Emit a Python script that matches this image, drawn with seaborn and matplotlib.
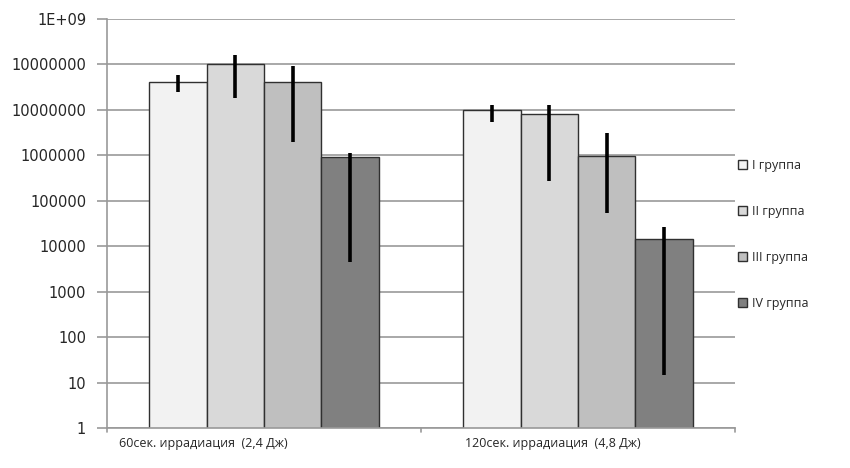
import pandas as pd
import matplotlib.pyplot as plt
import matplotlib.transforms as mtransforms
import seaborn as sns
from matplotlib.patches import Patch

# DATOS
categorias = ["60сек. иррадиация  (2,4 Дж)", "120сек. иррадиация  (4,8 Дж)"]
grupos = ["I группа", "II группа", "III группа", "IV группа"]
valores = {
    "I группа": [4.1e7, 1.0e7],
    "II группа": [1.03e8, 8.1e6],
    "III группа": [4.1e7, 9.7e5],
    "IV группа": [9.2e5, 1.45e4],
}
err_alto = {
    "I группа": [5.9e7, 1.3e7],
    "II группа": [1.6e8, 1.3e7],
    "III группа": [9.3e7, 3.1e6],
    "IV группа": [1.1e6, 2.6e4],
}
err_bajo = {
    "I группа": [2.5e7, 5.4e6],
    "II группа": [1.8e7, 2.7e5],
    "III группа": [2.0e6, 5.4e4],
    "IV группа": [4.5e3, 15],
}
colores = ["#F2F2F2", "#D9D9D9", "#BFBFBF", "#808080"]
yticks = [1, 10, 100, 1000, 1e4, 1e5, 1e6, 1e7, 1e8, 1e9]
ytick_labels = ["1", "10", "100", "1000", "10000", "100000", "1000000",
                "10000000", "10000000", "1E+09"]

filas = []
for g in grupos:
    for i, c in enumerate(categorias):
        filas.append({"cat": c, "grupo": g, "valor": valores[g][i]})
df = pd.DataFrame(filas)

# GRAFICO
sns.set_style("white")
fig = plt.figure(figsize=(8.5, 4.68), dpi=100)
ax = fig.add_axes([107 / 850, 1 - 428 / 468, 628 / 850, 409 / 468])

sns.barplot(data=df, x="cat", y="valor", hue="grupo", order=categorias,
            hue_order=grupos, palette=colores, width=0.73, edgecolor="#303030",
            linewidth=1.0, ax=ax, legend=False, zorder=2)
ax.set_yscale("log")

# barras de error
for cont, g in zip(ax.containers, grupos):
    for i, p in enumerate(cont.patches):
        xc = p.get_x() + p.get_width() / 2
        ax.vlines(xc, err_bajo[g][i], err_alto[g][i], color="black", lw=2.6, zorder=3)

ax.set_ylim(1, 1e9)
ax.set_xlim(-0.5, 1.5)
ax.set_yticks(yticks)
ax.set_yticklabels(ytick_labels)
ax.minorticks_off()
ax.yaxis.grid(True, color="#999999", lw=1.2, zorder=0)
ax.set_axisbelow(True)
ax.set_xlabel("")
ax.set_ylabel("")

for s in ["top", "right"]:
    ax.spines[s].set_visible(False)
for s in ["left", "bottom"]:
    ax.spines[s].set_color("#999999")
    ax.spines[s].set_linewidth(1.2)

ax.tick_params(axis="y", left=True, length=7, width=1.2, color="#999999",
               labelsize=10.5, pad=8)
ax.set_xticks([0, 1])
ax.set_xticklabels(categorias, fontfamily="Open Sans", fontsize=9)
ax.tick_params(axis="x", bottom=False, pad=3)
# las etiquetas del original estan algo desplazadas a la izquierda
for lab, dx in zip(ax.get_xticklabels(), [-44, -18]):
    lab.set_transform(lab.get_transform() +
                      mtransforms.ScaledTranslation(dx / 72, 0, fig.dpi_scale_trans))
for xb in [-0.5, 0.5, 1.5]:
    ax.plot([xb, xb], [1, 0.8], color="#999999", lw=1.2, clip_on=False)

# LEYENDA
handles = [Patch(facecolor=c, edgecolor="#303030", lw=1.0) for c in colores]
fig.legend(handles, grupos, loc="center left", bbox_to_anchor=(0.855, 0.499),
           frameon=False, handlelength=0.75, handleheight=0.75, handletextpad=0.35,
           labelspacing=2.65, prop={"family": "Open Sans", "size": 9})

fig.savefig("out.png", dpi=100)
